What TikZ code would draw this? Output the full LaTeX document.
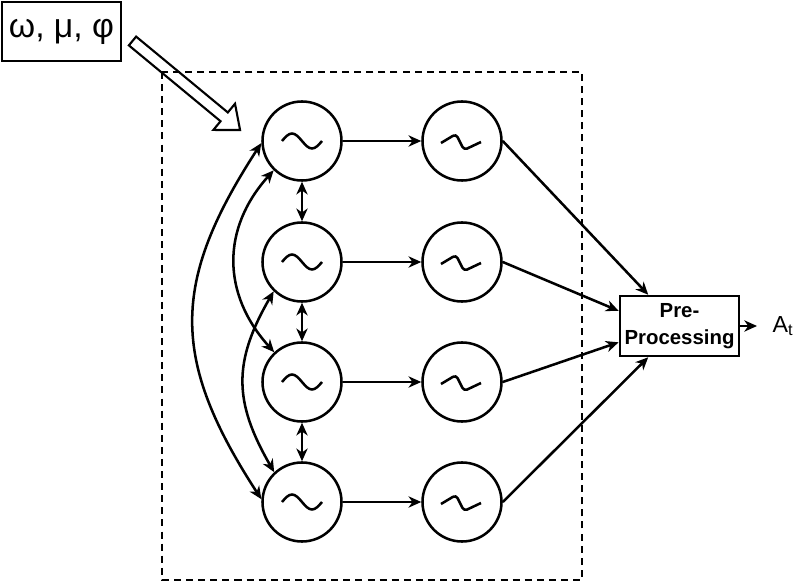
\documentclass[tikz,border=0pt]{standalone}
\usepackage{fontspec}
\setmainfont{Liberation Sans}
\usetikzlibrary{arrows.meta}

\begin{document}
\begin{tikzpicture}[x=0.025cm, y=-0.025cm, line width=1.8pt,
    arr/.style={-{Stealth[length=9pt, width=8pt, inset=2.8pt]}},
    darr/.style={{Stealth[length=9pt, width=8pt, inset=2.8pt]}-{Stealth[length=9pt, width=8pt, inset=2.8pt]}},
    osc/.style={circle, draw, minimum size=1.975cm, inner sep=0pt},
    sine/.style={osc, path picture={\draw[shift={(path picture bounding box.center)}] (-20,0) sin (-10,-7.5) cos (0,0) sin (10,7.5) cos (20,0);}},
    saw/.style={osc, path picture={\draw[shift={(path picture bounding box.center)}, rounded corners=2.5pt] (-21,2) -- (-6,-7) -- (2,9) -- (19,1);}},
    frame/.style={dash pattern=on 5pt off 3.6pt, line width=2pt}]
        \useasboundingbox (0,0) rectangle (803,583);

        \node[draw, minimum width=2.975cm, minimum height=1.475cm, font=\fontsize{24}{28}\selectfont] (params) at (61.5,31.5) {ω, μ, φ};

        \draw[frame] (162,72) rectangle (582,580);

        \node[sine] (o1) at (302,141) {};
        \node[sine] (o2) at (302,262) {};
        \node[sine] (o3) at (302,382) {};
        \node[sine] (o4) at (302,502) {};

        \node[saw] (c1) at (462,141) {};
        \node[saw] (c2) at (462,262) {};
        \node[saw] (c3) at (462,382) {};
        \node[saw] (c4) at (462,502) {};

        \node[draw, minimum width=2.85cm, minimum height=1.5cm, align=center, font=\fontsize{14.5}{19}\selectfont\bfseries] (pre) at (679.5,326) {Pre-\\Processing};
        \node[anchor=west, inner xsep=0.36cm, inner ysep=0pt, font=\fontsize{16.5}{19}\selectfont] (At) at (757,326) {A\textsubscript{t}};

        \draw[arr] (o1) -- (c1);
        \draw[arr] (o2) -- (c2);
        \draw[arr] (o3) -- (c3);
        \draw[arr] (o4) -- (c4);

        \draw[darr] (o1) -- (o2);
        \draw[darr] (o2) -- (o3);
        \draw[darr] (o3) -- (o4);

        \draw[darr] (o1.183) to[out=237, in=123, looseness=1.2] (o4.176);
        \draw[darr] (o1.226) to[out=228, in=132, looseness=1.1] (o3.133);
        \draw[darr] (o2.226) to[out=240, in=120, looseness=1.15] (o4.133);

        \draw[arr] (c1.east) -- (pre.135);
        \draw[arr] (c2.east) -- (pre.166);
        \draw[arr] (c3.east) -- (pre.195);
        \draw[arr] (c4.east) -- (pre.225);
        \draw[arr] (pre) -- (At);

        \begin{scope}[shift={(132.5,41)}, rotate=-39.6, line width=1.5pt]
            \draw (0,-5.7) -- (119,-5.7) -- (119,-17) -- (139.6,0) -- (119,17) -- (119,5.7) -- (0,5.7) -- cycle;
        \end{scope}
    \end{tikzpicture}
\end{document}
